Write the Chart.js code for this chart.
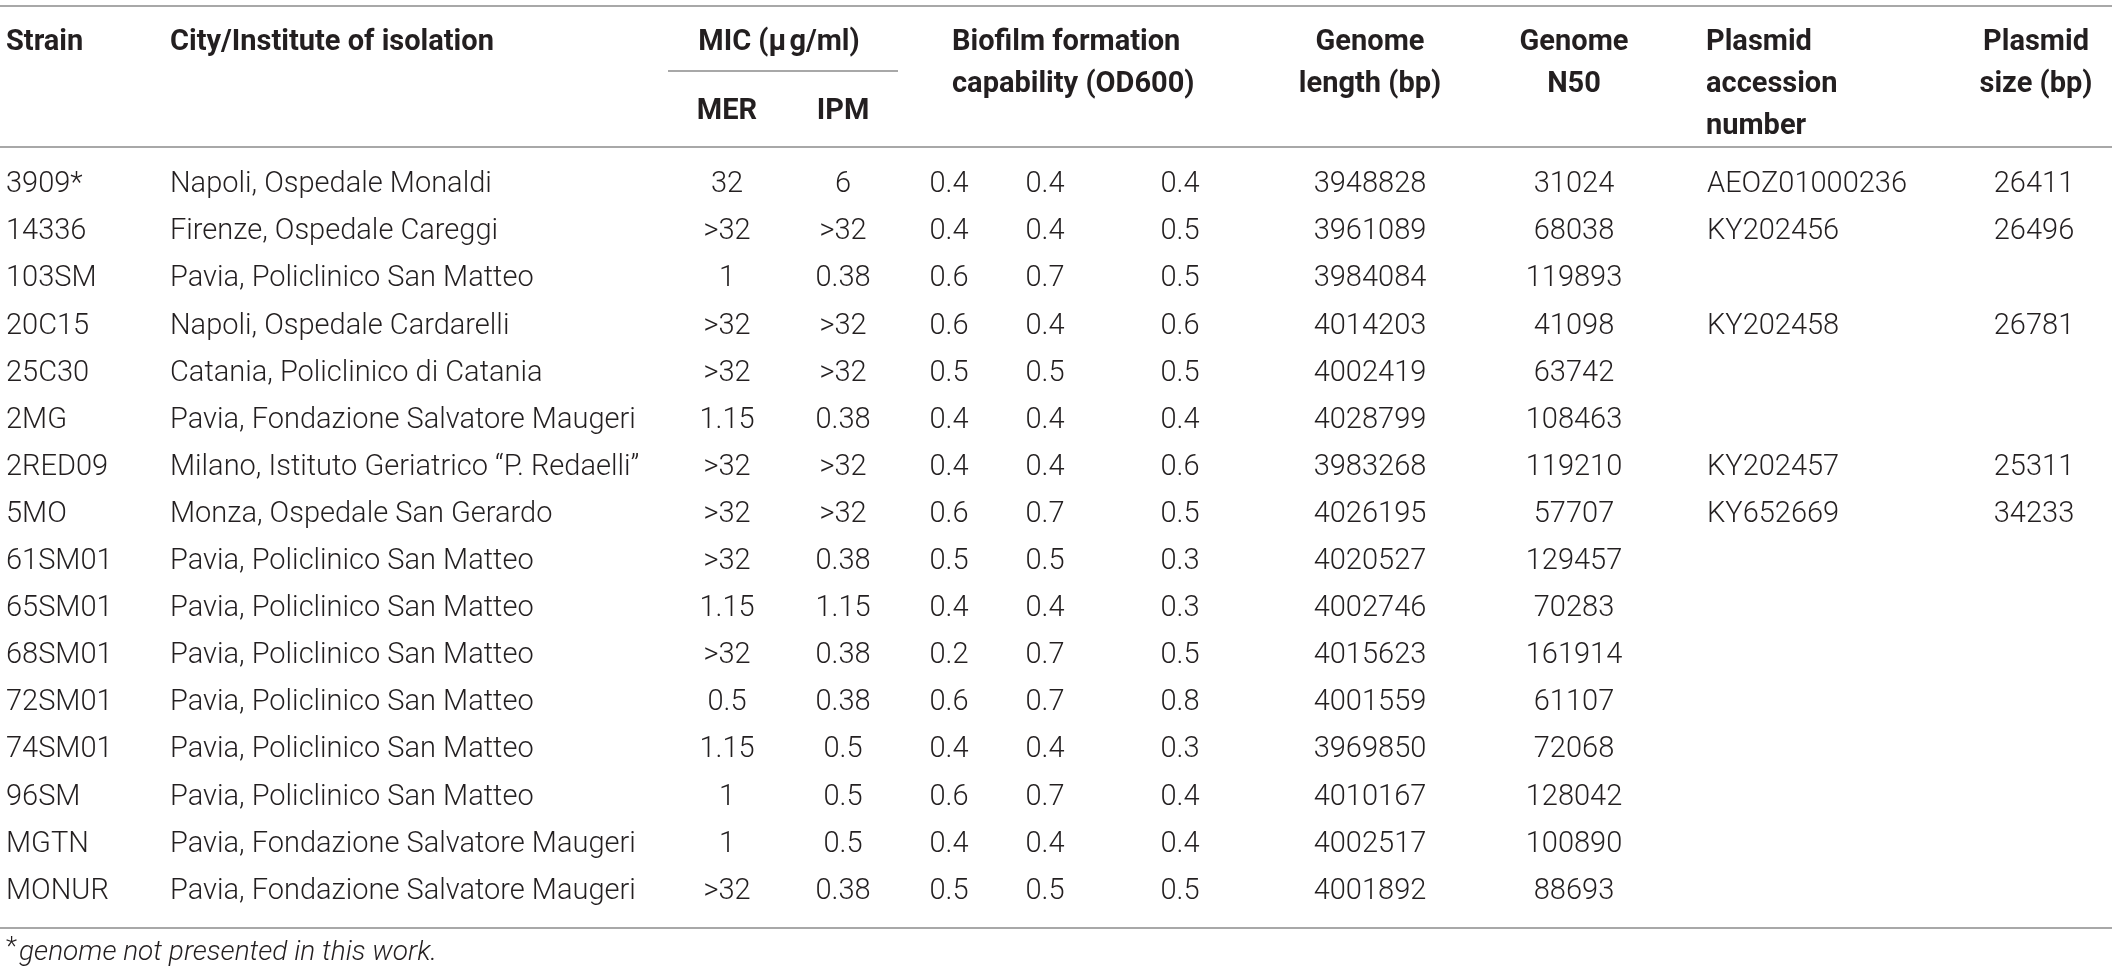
<!DOCTYPE html>
<html lang="en">
<head>
    <meta charset="UTF-8">
    <title>Strains table</title>
    <script src="https://cdn.jsdelivr.net/npm/chart.js@4.4.1/dist/chart.umd.min.js"></script>
    <style>
        body { margin: 0; background: #ffffff; }
        canvas { display: block; }
    </style>
</head>
<body>

    <canvas id="tabla" width="2117" height="977"></canvas>

    <script>
        // table data, one array per column
        const strains = ['3909*', '14336', '103SM', '20C15', '25C30', '2MG', '2RED09', '5MO', '61SM01', '65SM01', '68SM01', '72SM01', '74SM01', '96SM', 'MGTN', 'MONUR']
        const cities = [
            'Napoli, Ospedale Monaldi', 'Firenze, Ospedale Careggi', 'Pavia, Policlinico San Matteo',
            'Napoli, Ospedale Cardarelli', 'Catania, Policlinico di Catania', 'Pavia, Fondazione Salvatore Maugeri',
            'Milano, Istituto Geriatrico \u201cP. Redaelli\u201d', 'Monza, Ospedale San Gerardo', 'Pavia, Policlinico San Matteo',
            'Pavia, Policlinico San Matteo', 'Pavia, Policlinico San Matteo', 'Pavia, Policlinico San Matteo',
            'Pavia, Policlinico San Matteo', 'Pavia, Policlinico San Matteo', 'Pavia, Fondazione Salvatore Maugeri',
            'Pavia, Fondazione Salvatore Maugeri'
        ]
        const micMER = ['32', '>32', '1', '>32', '>32', '1.15', '>32', '>32', '>32', '1.15', '>32', '0.5', '1.15', '1', '1', '>32']
        const micIPM = ['6', '>32', '0.38', '>32', '>32', '0.38', '>32', '>32', '0.38', '1.15', '0.38', '0.38', '0.5', '0.5', '0.5', '0.38']
        const biofilm1 = [0.4, 0.4, 0.6, 0.6, 0.5, 0.4, 0.4, 0.6, 0.5, 0.4, 0.2, 0.6, 0.4, 0.6, 0.4, 0.5]
        const biofilm2 = [0.4, 0.4, 0.7, 0.4, 0.5, 0.4, 0.4, 0.7, 0.5, 0.4, 0.7, 0.7, 0.4, 0.7, 0.4, 0.5]
        const biofilm3 = [0.4, 0.5, 0.5, 0.6, 0.5, 0.4, 0.6, 0.5, 0.3, 0.3, 0.5, 0.8, 0.3, 0.4, 0.4, 0.5]
        const genomeLength = [3948828, 3961089, 3984084, 4014203, 4002419, 4028799, 3983268, 4026195, 4020527, 4002746, 4015623, 4001559, 3969850, 4010167, 4002517, 4001892]
        const genomeN50 = [31024, 68038, 119893, 41098, 63742, 108463, 119210, 57707, 129457, 70283, 161914, 61107, 72068, 128042, 100890, 88693]
        const plasmidAcc = ['AEOZ01000236', 'KY202456', null, 'KY202458', null, null, 'KY202457', 'KY652669', null, null, null, null, null, null, null, null]
        const plasmidSize = [26411, 26496, null, 26781, null, null, 25311, 34233, null, null, null, null, null, null, null, null]

        const footnote = 'genome not presented in this work.'

        // column layout (x on the page scale)
        const columnas = [
            { valores: strains, x: 6, align: 'left' },
            { valores: cities, x: 170, align: 'left' },
            { valores: micMER, x: 727, align: 'center' },
            { valores: micIPM, x: 843, align: 'center' },
            { valores: biofilm1, x: 949, align: 'center' },
            { valores: biofilm2, x: 1045, align: 'center' },
            { valores: biofilm3, x: 1180, align: 'center' },
            { valores: genomeLength, x: 1370, align: 'center' },
            { valores: genomeN50, x: 1574, align: 'center' },
            { valores: plasmidAcc, x: 1707, align: 'left' },
            { valores: plasmidSize, x: 2034, align: 'center' }
        ]

        const encabezados = [
            { lineas: ['Strain'], x: 6, align: 'left', y: 43 },
            { lineas: ['City/Institute of isolation'], x: 170, align: 'left', y: 43 },
            { lineas: ['MIC (\u03bc\u200ag/ml)'], x: 779, align: 'center', y: 43 },
            { lineas: ['MER'], x: 727, align: 'center', y: 112 },
            { lineas: ['IPM'], x: 843, align: 'center', y: 112 },
            { lineas: ['Biofilm formation', 'capability (OD600)'], x: 952, align: 'left', y: 43 },
            { lineas: ['Genome', 'length (bp)'], x: 1370, align: 'center', y: 43 },
            { lineas: ['Genome', 'N50'], x: 1574, align: 'center', y: 43 },
            { lineas: ['Plasmid', 'accession', 'number'], x: 1706, align: 'left', y: 43 },
            { lineas: ['Plasmid', 'size (bp)'], x: 2036, align: 'center', y: 43 }
        ]

        const fuente = 'Roboto, "Liberation Sans", Arial, sans-serif'
        const colorTexto = '#231f20'
        const colorLinea = '#a8a8a8'

        let datasets = columnas.map(c => ({
            data: c.valores
                .map((v, i) => ({ x: c.x, y: strains[i], t: v }))
                .filter(p => p.t !== null && p.t !== ''),
            align: c.align,
            pointRadius: 0,
            showLine: false,
            clip: false
        }))

        const tablaPlugin = {
            id: 'tablaPlugin',
            afterDraw(chart) {
                let ctx = chart.ctx
                let xs = chart.scales.x
                ctx.save()

                // rules
                ctx.strokeStyle = colorLinea
                ctx.lineWidth = 2
                let regla = (x1, x2, y) => {
                    ctx.beginPath()
                    ctx.moveTo(xs.getPixelForValue(x1), y)
                    ctx.lineTo(xs.getPixelForValue(x2), y)
                    ctx.stroke()
                }
                regla(0, 2112, 6)
                regla(668, 898, 71)
                regla(0, 2112, 147)
                regla(0, 2112, 928)

                // header
                ctx.fillStyle = colorTexto
                ctx.textBaseline = 'middle'
                ctx.font = 'bold 29px ' + fuente
                encabezados.forEach(h => {
                    ctx.textAlign = h.align
                    h.lineas.forEach((l, k) => {
                        ctx.fillText(l, xs.getPixelForValue(h.x), h.y + k * 42)
                    })
                })

                // cells
                ctx.font = '300 29px ' + fuente
                chart.data.datasets.forEach((ds, i) => {
                    let meta = chart.getDatasetMeta(i)
                    ctx.textAlign = ds.align
                    meta.data.forEach((pt, j) => {
                        ctx.fillText(String(ds.data[j].t), pt.x, pt.y)
                    })
                })

                // footnote
                ctx.textAlign = 'left'
                ctx.font = '300 26px ' + fuente
                ctx.fillText('*', xs.getPixelForValue(6), 948)
                let ancho = ctx.measureText('*').width
                ctx.font = 'italic 300 28px ' + fuente
                ctx.fillText(footnote, xs.getPixelForValue(6) + ancho + 2, 953)
                ctx.restore()
            }
        }

        let myChart = new Chart(document.getElementById('tabla'), {
            type: 'scatter',
            data: { datasets: datasets },
            options: {
                responsive: false,
                devicePixelRatio: 1,
                animation: false,
                events: [],
                layout: { padding: { top: 161.5, bottom: 62, left: 0, right: 0 } },
                plugins: { legend: { display: false }, tooltip: { enabled: false } },
                scales: {
                    x: { type: 'linear', min: 0, max: 2117, display: false },
                    y: { type: 'category', labels: strains, offset: true, display: false }
                }
            },
            plugins: [tablaPlugin]
        })
    </script>
</body>
</html>
